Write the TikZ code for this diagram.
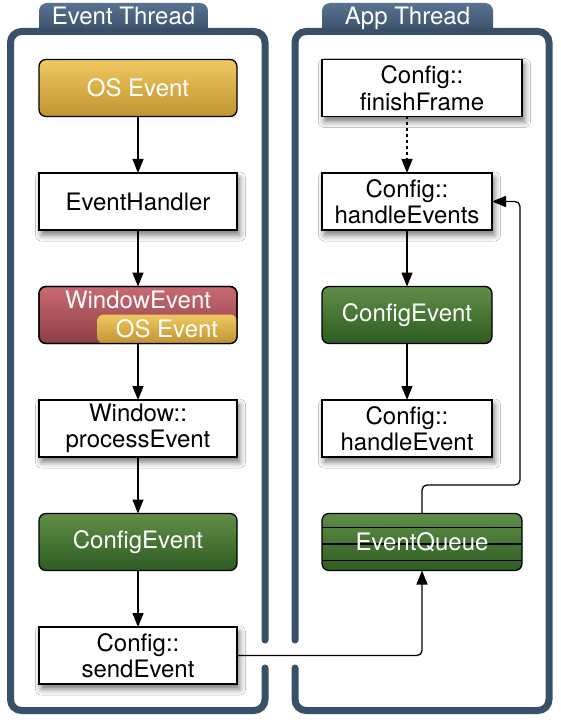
\documentclass[tikz,border=0pt]{standalone}
\usepackage{fontspec}
\setmainfont{TeX Gyre Heros}
\usetikzlibrary{arrows.meta,calc,positioning,shadows.blur}
\definecolor{frmblue}{RGB}{58,80,104}
\definecolor{tabtop}{RGB}{88,114,144}
\definecolor{goldtop}{RGB}{240,200,96}
\definecolor{goldbot}{RGB}{192,148,50}
\definecolor{redtop}{RGB}{202,106,114}
\definecolor{redbot}{RGB}{140,62,68}
\definecolor{greentop}{RGB}{96,142,72}
\definecolor{greenbot}{RGB}{46,92,34}

\begin{document}
\begin{tikzpicture}[x=1pt,y=-1pt,node distance=56.5pt,font=\fontsize{24}{26.5}\selectfont]
\tikzset{
  box/.style={draw=black,line width=1.3pt,minimum height=57pt,minimum width=198pt,
    align=center,inner sep=2pt,outer sep=0pt},
  whitebox/.style={box,fill=white,blur shadow={shadow xshift=2.5pt,shadow yshift=-5pt,
    shadow blur radius=6pt,shadow opacity=55}},
  goldbox/.style={box,rounded corners=7pt,top color=goldtop,middle color=goldbot,
    bottom color=goldbot,text=white},
  redbox/.style={box,rounded corners=7pt,top color=redtop,middle color=redbot,
    bottom color=redbot,text=white},
  greenbox/.style={box,rounded corners=7pt,top color=greentop,middle color=greenbot,
    bottom color=greenbot,text=white},
  fl/.style={-{Triangle[length=14pt,width=11pt]},line width=1.3pt,black},
  frm/.style={draw=frmblue,line width=7pt,rounded corners=11pt,line cap=round},
  tabtxt/.style={text=white,anchor=base,inner sep=0pt}
}
\useasboundingbox (0,0) rectangle (560,722);
\fill[white] (0,0) rectangle (560,722);

% thread frames and tabs
\shade[top color=tabtop,bottom color=frmblue] (39,32) [rounded corners=8pt] -- (39,3)
  -- (208,3) [sharp corners] -- (208,32) -- cycle;
\shade[top color=tabtop,bottom color=frmblue] (322,32) [rounded corners=8pt] -- (322,3)
  -- (493,3) [sharp corners] -- (493,32) -- cycle;
\draw[frm] (265,668) -- (265,710.5) -- (10.5,710.5) -- (10.5,31.5) -- (265,31.5) -- (265,640);
\draw[frm] (295,640) -- (295,31.5) -- (549,31.5) -- (549,710.5) -- (295,710.5) -- (295,668);
\node[tabtxt] (evthr) at (123.5,25) {Event Thread};
\node[tabtxt] (appthr) at (407.5,25) {App Thread};

% event thread
\node[goldbox] (osev) at (138,88) {OS Event};
\node[whitebox,below=of osev] (evh) {EventHandler};
\node[redbox,below=of evh,text depth=30pt] (winev) {WindowEvent};
\node[goldbox,draw=none,minimum width=140pt,minimum height=29pt,inner sep=0pt,
  anchor=south east] (winos) at (winev.south east) {OS Event};
\draw[line width=1.3pt,rounded corners=7pt] (winev.south west) rectangle (winev.north east);
\node[whitebox,below=of winev] (winproc) {Window::\\processEvent};
\node[greenbox,below=of winproc] (cfgev) {ConfigEvent};
\node[whitebox,below=of cfgev] (send) {Config::\\sendEvent};
\draw[fl] (osev) -- (evh); \draw[fl] (evh) -- (winev);
\draw[fl] (winev) -- (winproc); \draw[fl] (winproc) -- (cfgev);
\draw[fl] (cfgev) -- (send);

% app thread
\node[whitebox,minimum width=200pt] (finish) at (422,88) {Config::\\finishFrame};
\node[whitebox,minimum width=170pt,below=of finish.south west,anchor=north west]
  (hevs) {Config::\\handleEvents};
\node[greenbox,minimum width=170pt,below=of hevs] (appcfg) {ConfigEvent};
\node[whitebox,minimum width=170pt,below=of appcfg] (hev) {Config::\\handleEvent};
\node[greenbox,minimum width=200pt,below=of hev.south west,anchor=north west,
  path picture={\foreach \f in {0.245,0.535,0.825}
    \draw[line width=1.3pt] ($(path picture bounding box.north west)!\f!(path picture bounding box.south west)$)
      -- ($(path picture bounding box.north east)!\f!(path picture bounding box.south east)$);}]
  (queue) {EventQueue};
\coordinate (qturn) at (520,485);
\draw[fl,dash pattern=on 3pt off 3pt] (hevs.north |- finish.south) -- (hevs.north);
\draw[fl] (hevs) -- (appcfg); \draw[fl] (appcfg) -- (hev);
\draw[fl,rounded corners=5pt] (send.east) -| (queue.south);
\draw[fl,rounded corners=5pt] (queue.north) |- (qturn) |- (hevs.east);
\end{tikzpicture}
\end{document}
